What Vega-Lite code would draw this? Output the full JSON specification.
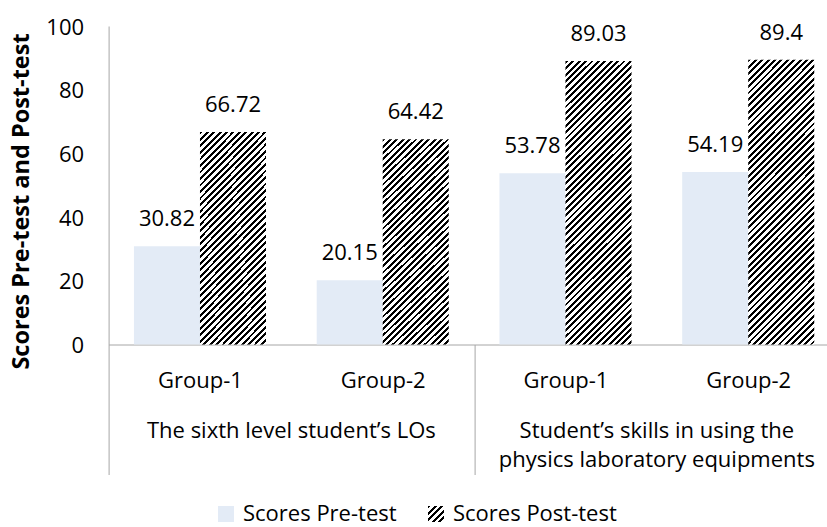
{
  "$schema": "https://vega.github.io/schema/vega-lite/v6.json",
  "width": 731,
  "height": 318.5,
  "autosize": {"type": "none"},
  "padding": {"left": 108.6, "top": 26, "right": -12.6, "bottom": 182.5},
  "background": "white",
  "config": {"view": {"stroke": null}, "font": "Open Sans"},
  "data": {
    "values": [
      {"category": "The sixth level student’s LOs", "group": "Group-1", "slot": "LOs|Group-1", "series": "Scores Pre-test", "value": 30.82},
      {"category": "The sixth level student’s LOs", "group": "Group-1", "slot": "LOs|Group-1", "series": "Scores Post-test", "value": 66.72},
      {"category": "The sixth level student’s LOs", "group": "Group-2", "slot": "LOs|Group-2", "series": "Scores Pre-test", "value": 20.15},
      {"category": "The sixth level student’s LOs", "group": "Group-2", "slot": "LOs|Group-2", "series": "Scores Post-test", "value": 64.42},
      {"category": "Student’s skills in using the\nphysics laboratory equipments", "group": "Group-1", "slot": "Skills|Group-1", "series": "Scores Pre-test", "value": 53.78},
      {"category": "Student’s skills in using the\nphysics laboratory equipments", "group": "Group-1", "slot": "Skills|Group-1", "series": "Scores Post-test", "value": 89.03},
      {"category": "Student’s skills in using the\nphysics laboratory equipments", "group": "Group-2", "slot": "Skills|Group-2", "series": "Scores Pre-test", "value": 54.19},
      {"category": "Student’s skills in using the\nphysics laboratory equipments", "group": "Group-2", "slot": "Skills|Group-2", "series": "Scores Post-test", "value": 89.4}
    ]
  },
  "layer": [
    {
      "transform": [{"filter": "datum.series == 'Scores Pre-test'"}],
      "mark": {"type": "bar"},
      "encoding": {
        "x": {
          "field": "slot",
          "type": "nominal",
          "scale": {"type": "band", "domain": ["LOs|Group-1", "LOs|Group-2", "Skills|Group-1", "Skills|Group-2"], "paddingInner": 0, "paddingOuter": 0},
          "axis": {
            "orient": "bottom",
            "title": null,
            "domain": true,
            "domainColor": "#a6a6a6",
            "ticks": true,
            "tickBand": "extent",
            "tickSize": 130,
            "tickColor": "#a6a6a6",
            "tickOpacity": {"condition": {"test": "!datum.extra && indexof(datum.value, 'Group-1') >= 0", "value": 0}, "value": 1},
            "labelAngle": 0,
            "labelPadding": -104.5,
            "labelFont": "Open Sans",
            "labelFontSize": 22,
            "labelColor": "#000",
            "labelExpr": "split(datum.value, '|')[1]"
          }
        },
        "xOffset": {
          "field": "series",
          "type": "nominal",
          "scale": {"type": "band", "domain": ["Scores Pre-test", "Scores Post-test"], "paddingInner": 0, "paddingOuter": 0.384}
        },
        "y": {
          "field": "value",
          "type": "quantitative",
          "scale": {"domain": [0, 100], "nice": false, "zero": true},
          "axis": {
            "title": "Scores Pre-test and Post-test",
            "titleFont": "Open Sans",
            "titleFontSize": 23.5,
            "titleFontWeight": "bold",
            "titleColor": "#000",
            "titlePadding": 12,
            "titleY": 175,
            "values": [0, 10, 20, 30, 40, 50, 60, 70, 80, 90, 100],
            "labelOverlap": false,
            "labelFont": "Open Sans",
            "labelFontSize": 22,
            "labelColor": "#000",
            "labelPadding": 25,
            "labelOffset": 1,
            "ticks": false,
            "grid": false,
            "domainColor": "#a6a6a6"
          }
        },
        "color": {
          "field": "series",
          "type": "nominal",
          "scale": {
            "domain": ["Scores Pre-test", "Scores Post-test"],
            "range": [
              "#e3ebf6",
              {"expr": "{gradient: 'linear', x1: 0, y1: 0, x2: 20, y2: 20, stops: [{offset: 0, color: '#000'}, {offset: 0.0045, color: '#000'}, {offset: 0.0045, color: '#fff'}, {offset: 0.01, color: '#fff'}, {offset: 0.01, color: '#000'}, {offset: 0.0145, color: '#000'}, {offset: 0.0145, color: '#fff'}, {offset: 0.02, color: '#fff'}, {offset: 0.02, color: '#000'}, {offset: 0.0245, color: '#000'}, {offset: 0.0245, color: '#fff'}, {offset: 0.03, color: '#fff'}, {offset: 0.03, color: '#000'}, {offset: 0.0345, color: '#000'}, {offset: 0.0345, color: '#fff'}, {offset: 0.04, color: '#fff'}, {offset: 0.04, color: '#000'}, {offset: 0.0445, color: '#000'}, {offset: 0.0445, color: '#fff'}, {offset: 0.05, color: '#fff'}, {offset: 0.05, color: '#000'}, {offset: 0.0545, color: '#000'}, {offset: 0.0545, color: '#fff'}, {offset: 0.06, color: '#fff'}]}"}
            ]
          },
          "legend": {
            "title": null,
            "orient": "none",
            "legendX": 106.4,
            "legendY": 477,
            "direction": "horizontal",
            "symbolType": "square",
            "symbolSize": 256,
            "symbolStrokeWidth": 0,
            "labelFont": "Open Sans",
            "labelFontSize": 22,
            "labelColor": "#000",
            "labelOffset": 6,
            "columnPadding": 28,
            "padding": 0,
            "labelLimit": 0
          }
        }
      }
    },
    {
      "transform": [{"filter": "datum.series == 'Scores Post-test' && datum.value > 80"}],
      "mark": {
        "type": "bar",
        "fill": {"gradient": "linear", "x1": 0, "y1": 0, "x2": 0.4964, "y2": 2.1366, "stops": [
          {"offset":0,"color":"#000"},{"offset":0.0045,"color":"#000"},{"offset":0.0045,"color":"#fff"},{"offset":0.01,"color":"#fff"},
          {"offset":0.01,"color":"#000"},{"offset":0.0145,"color":"#000"},{"offset":0.0145,"color":"#fff"},{"offset":0.02,"color":"#fff"},
          {"offset":0.02,"color":"#000"},{"offset":0.0245,"color":"#000"},{"offset":0.0245,"color":"#fff"},{"offset":0.03,"color":"#fff"},
          {"offset":0.03,"color":"#000"},{"offset":0.0345,"color":"#000"},{"offset":0.0345,"color":"#fff"},{"offset":0.04,"color":"#fff"},
          {"offset":0.04,"color":"#000"},{"offset":0.0445,"color":"#000"},{"offset":0.0445,"color":"#fff"},{"offset":0.05,"color":"#fff"},
          {"offset":0.05,"color":"#000"},{"offset":0.0545,"color":"#000"},{"offset":0.0545,"color":"#fff"},{"offset":0.06,"color":"#fff"},
          {"offset":0.06,"color":"#000"},{"offset":0.0645,"color":"#000"},{"offset":0.0645,"color":"#fff"},{"offset":0.07,"color":"#fff"},
          {"offset":0.07,"color":"#000"},{"offset":0.0745,"color":"#000"},{"offset":0.0745,"color":"#fff"},{"offset":0.08,"color":"#fff"},
          {"offset":0.08,"color":"#000"},{"offset":0.0845,"color":"#000"},{"offset":0.0845,"color":"#fff"},{"offset":0.09,"color":"#fff"},
          {"offset":0.09,"color":"#000"},{"offset":0.0945,"color":"#000"},{"offset":0.0945,"color":"#fff"},{"offset":0.10,"color":"#fff"},
          {"offset":0.10,"color":"#000"},{"offset":0.1045,"color":"#000"},{"offset":0.1045,"color":"#fff"},{"offset":0.11,"color":"#fff"},
          {"offset":0.11,"color":"#000"},{"offset":0.1145,"color":"#000"},{"offset":0.1145,"color":"#fff"},{"offset":0.12,"color":"#fff"},
          {"offset":0.12,"color":"#000"},{"offset":0.1245,"color":"#000"},{"offset":0.1245,"color":"#fff"},{"offset":0.13,"color":"#fff"},
          {"offset":0.13,"color":"#000"},{"offset":0.1345,"color":"#000"},{"offset":0.1345,"color":"#fff"},{"offset":0.14,"color":"#fff"},
          {"offset":0.14,"color":"#000"},{"offset":0.1445,"color":"#000"},{"offset":0.1445,"color":"#fff"},{"offset":0.15,"color":"#fff"},
          {"offset":0.15,"color":"#000"},{"offset":0.1545,"color":"#000"},{"offset":0.1545,"color":"#fff"},{"offset":0.16,"color":"#fff"},
          {"offset":0.16,"color":"#000"},{"offset":0.1645,"color":"#000"},{"offset":0.1645,"color":"#fff"},{"offset":0.17,"color":"#fff"},
          {"offset":0.17,"color":"#000"},{"offset":0.1745,"color":"#000"},{"offset":0.1745,"color":"#fff"},{"offset":0.18,"color":"#fff"},
          {"offset":0.18,"color":"#000"},{"offset":0.1845,"color":"#000"},{"offset":0.1845,"color":"#fff"},{"offset":0.19,"color":"#fff"},
          {"offset":0.19,"color":"#000"},{"offset":0.1945,"color":"#000"},{"offset":0.1945,"color":"#fff"},{"offset":0.20,"color":"#fff"},
          {"offset":0.20,"color":"#000"},{"offset":0.2045,"color":"#000"},{"offset":0.2045,"color":"#fff"},{"offset":0.21,"color":"#fff"},
          {"offset":0.21,"color":"#000"},{"offset":0.2145,"color":"#000"},{"offset":0.2145,"color":"#fff"},{"offset":0.22,"color":"#fff"},
          {"offset":0.22,"color":"#000"},{"offset":0.2245,"color":"#000"},{"offset":0.2245,"color":"#fff"},{"offset":0.23,"color":"#fff"},
          {"offset":0.23,"color":"#000"},{"offset":0.2345,"color":"#000"},{"offset":0.2345,"color":"#fff"},{"offset":0.24,"color":"#fff"},
          {"offset":0.24,"color":"#000"},{"offset":0.2445,"color":"#000"},{"offset":0.2445,"color":"#fff"},{"offset":0.25,"color":"#fff"},
          {"offset":0.25,"color":"#000"},{"offset":0.2545,"color":"#000"},{"offset":0.2545,"color":"#fff"},{"offset":0.26,"color":"#fff"},
          {"offset":0.26,"color":"#000"},{"offset":0.2645,"color":"#000"},{"offset":0.2645,"color":"#fff"},{"offset":0.27,"color":"#fff"},
          {"offset":0.27,"color":"#000"},{"offset":0.2745,"color":"#000"},{"offset":0.2745,"color":"#fff"},{"offset":0.28,"color":"#fff"},
          {"offset":0.28,"color":"#000"},{"offset":0.2845,"color":"#000"},{"offset":0.2845,"color":"#fff"},{"offset":0.29,"color":"#fff"},
          {"offset":0.29,"color":"#000"},{"offset":0.2945,"color":"#000"},{"offset":0.2945,"color":"#fff"},{"offset":0.30,"color":"#fff"},
          {"offset":0.30,"color":"#000"},{"offset":0.3045,"color":"#000"},{"offset":0.3045,"color":"#fff"},{"offset":0.31,"color":"#fff"},
          {"offset":0.31,"color":"#000"},{"offset":0.3145,"color":"#000"},{"offset":0.3145,"color":"#fff"},{"offset":0.32,"color":"#fff"},
          {"offset":0.32,"color":"#000"},{"offset":0.3245,"color":"#000"},{"offset":0.3245,"color":"#fff"},{"offset":0.33,"color":"#fff"},
          {"offset":0.33,"color":"#000"},{"offset":0.3345,"color":"#000"},{"offset":0.3345,"color":"#fff"},{"offset":0.34,"color":"#fff"},
          {"offset":0.34,"color":"#000"},{"offset":0.3445,"color":"#000"},{"offset":0.3445,"color":"#fff"},{"offset":0.35,"color":"#fff"},
          {"offset":0.35,"color":"#000"},{"offset":0.3545,"color":"#000"},{"offset":0.3545,"color":"#fff"},{"offset":0.36,"color":"#fff"},
          {"offset":0.36,"color":"#000"},{"offset":0.3645,"color":"#000"},{"offset":0.3645,"color":"#fff"},{"offset":0.37,"color":"#fff"},
          {"offset":0.37,"color":"#000"},{"offset":0.3745,"color":"#000"},{"offset":0.3745,"color":"#fff"},{"offset":0.38,"color":"#fff"},
          {"offset":0.38,"color":"#000"},{"offset":0.3845,"color":"#000"},{"offset":0.3845,"color":"#fff"},{"offset":0.39,"color":"#fff"},
          {"offset":0.39,"color":"#000"},{"offset":0.3945,"color":"#000"},{"offset":0.3945,"color":"#fff"},{"offset":0.40,"color":"#fff"},
          {"offset":0.40,"color":"#000"},{"offset":0.4045,"color":"#000"},{"offset":0.4045,"color":"#fff"},{"offset":0.41,"color":"#fff"},
          {"offset":0.41,"color":"#000"},{"offset":0.4145,"color":"#000"},{"offset":0.4145,"color":"#fff"},{"offset":0.42,"color":"#fff"},
          {"offset":0.42,"color":"#000"},{"offset":0.4245,"color":"#000"},{"offset":0.4245,"color":"#fff"},{"offset":0.43,"color":"#fff"},
          {"offset":0.43,"color":"#000"},{"offset":0.4345,"color":"#000"},{"offset":0.4345,"color":"#fff"},{"offset":0.44,"color":"#fff"},
          {"offset":0.44,"color":"#000"},{"offset":0.4445,"color":"#000"},{"offset":0.4445,"color":"#fff"},{"offset":0.45,"color":"#fff"},
          {"offset":0.45,"color":"#000"},{"offset":0.4545,"color":"#000"},{"offset":0.4545,"color":"#fff"},{"offset":0.46,"color":"#fff"},
          {"offset":0.46,"color":"#000"},{"offset":0.4645,"color":"#000"},{"offset":0.4645,"color":"#fff"},{"offset":0.47,"color":"#fff"},
          {"offset":0.47,"color":"#000"},{"offset":0.4745,"color":"#000"},{"offset":0.4745,"color":"#fff"},{"offset":0.48,"color":"#fff"},
          {"offset":0.48,"color":"#000"},{"offset":0.4845,"color":"#000"},{"offset":0.4845,"color":"#fff"},{"offset":0.49,"color":"#fff"},
          {"offset":0.49,"color":"#000"},{"offset":0.4945,"color":"#000"},{"offset":0.4945,"color":"#fff"},{"offset":0.50,"color":"#fff"},
          {"offset":0.50,"color":"#000"},{"offset":0.5045,"color":"#000"},{"offset":0.5045,"color":"#fff"},{"offset":0.51,"color":"#fff"},
          {"offset":0.51,"color":"#000"},{"offset":0.5145,"color":"#000"},{"offset":0.5145,"color":"#fff"},{"offset":0.52,"color":"#fff"},
          {"offset":0.52,"color":"#000"},{"offset":0.5245,"color":"#000"},{"offset":0.5245,"color":"#fff"},{"offset":0.53,"color":"#fff"},
          {"offset":0.53,"color":"#000"},{"offset":0.5345,"color":"#000"},{"offset":0.5345,"color":"#fff"},{"offset":0.54,"color":"#fff"},
          {"offset":0.54,"color":"#000"},{"offset":0.5445,"color":"#000"},{"offset":0.5445,"color":"#fff"},{"offset":0.55,"color":"#fff"},
          {"offset":0.55,"color":"#000"},{"offset":0.5545,"color":"#000"},{"offset":0.5545,"color":"#fff"},{"offset":0.56,"color":"#fff"}
        ]}
      },
      "encoding": {
        "x": {"field": "slot", "type": "nominal"},
        "xOffset": {"field": "series", "type": "nominal"},
        "y": {"field": "value", "type": "quantitative"}
      }
    },
    {
      "transform": [{"filter": "datum.series == 'Scores Post-test' && datum.value < 80"}],
      "mark": {
        "type": "bar",
        "fill": {"gradient": "linear", "x1": 0, "y1": 0, "x2": 0.8807, "y2": 2.786, "stops": [
          {"offset":0,"color":"#000"},{"offset":0.0045,"color":"#000"},{"offset":0.0045,"color":"#fff"},{"offset":0.01,"color":"#fff"},
          {"offset":0.01,"color":"#000"},{"offset":0.0145,"color":"#000"},{"offset":0.0145,"color":"#fff"},{"offset":0.02,"color":"#fff"},
          {"offset":0.02,"color":"#000"},{"offset":0.0245,"color":"#000"},{"offset":0.0245,"color":"#fff"},{"offset":0.03,"color":"#fff"},
          {"offset":0.03,"color":"#000"},{"offset":0.0345,"color":"#000"},{"offset":0.0345,"color":"#fff"},{"offset":0.04,"color":"#fff"},
          {"offset":0.04,"color":"#000"},{"offset":0.0445,"color":"#000"},{"offset":0.0445,"color":"#fff"},{"offset":0.05,"color":"#fff"},
          {"offset":0.05,"color":"#000"},{"offset":0.0545,"color":"#000"},{"offset":0.0545,"color":"#fff"},{"offset":0.06,"color":"#fff"},
          {"offset":0.06,"color":"#000"},{"offset":0.0645,"color":"#000"},{"offset":0.0645,"color":"#fff"},{"offset":0.07,"color":"#fff"},
          {"offset":0.07,"color":"#000"},{"offset":0.0745,"color":"#000"},{"offset":0.0745,"color":"#fff"},{"offset":0.08,"color":"#fff"},
          {"offset":0.08,"color":"#000"},{"offset":0.0845,"color":"#000"},{"offset":0.0845,"color":"#fff"},{"offset":0.09,"color":"#fff"},
          {"offset":0.09,"color":"#000"},{"offset":0.0945,"color":"#000"},{"offset":0.0945,"color":"#fff"},{"offset":0.10,"color":"#fff"},
          {"offset":0.10,"color":"#000"},{"offset":0.1045,"color":"#000"},{"offset":0.1045,"color":"#fff"},{"offset":0.11,"color":"#fff"},
          {"offset":0.11,"color":"#000"},{"offset":0.1145,"color":"#000"},{"offset":0.1145,"color":"#fff"},{"offset":0.12,"color":"#fff"},
          {"offset":0.12,"color":"#000"},{"offset":0.1245,"color":"#000"},{"offset":0.1245,"color":"#fff"},{"offset":0.13,"color":"#fff"},
          {"offset":0.13,"color":"#000"},{"offset":0.1345,"color":"#000"},{"offset":0.1345,"color":"#fff"},{"offset":0.14,"color":"#fff"},
          {"offset":0.14,"color":"#000"},{"offset":0.1445,"color":"#000"},{"offset":0.1445,"color":"#fff"},{"offset":0.15,"color":"#fff"},
          {"offset":0.15,"color":"#000"},{"offset":0.1545,"color":"#000"},{"offset":0.1545,"color":"#fff"},{"offset":0.16,"color":"#fff"},
          {"offset":0.16,"color":"#000"},{"offset":0.1645,"color":"#000"},{"offset":0.1645,"color":"#fff"},{"offset":0.17,"color":"#fff"},
          {"offset":0.17,"color":"#000"},{"offset":0.1745,"color":"#000"},{"offset":0.1745,"color":"#fff"},{"offset":0.18,"color":"#fff"},
          {"offset":0.18,"color":"#000"},{"offset":0.1845,"color":"#000"},{"offset":0.1845,"color":"#fff"},{"offset":0.19,"color":"#fff"},
          {"offset":0.19,"color":"#000"},{"offset":0.1945,"color":"#000"},{"offset":0.1945,"color":"#fff"},{"offset":0.20,"color":"#fff"},
          {"offset":0.20,"color":"#000"},{"offset":0.2045,"color":"#000"},{"offset":0.2045,"color":"#fff"},{"offset":0.21,"color":"#fff"},
          {"offset":0.21,"color":"#000"},{"offset":0.2145,"color":"#000"},{"offset":0.2145,"color":"#fff"},{"offset":0.22,"color":"#fff"},
          {"offset":0.22,"color":"#000"},{"offset":0.2245,"color":"#000"},{"offset":0.2245,"color":"#fff"},{"offset":0.23,"color":"#fff"},
          {"offset":0.23,"color":"#000"},{"offset":0.2345,"color":"#000"},{"offset":0.2345,"color":"#fff"},{"offset":0.24,"color":"#fff"},
          {"offset":0.24,"color":"#000"},{"offset":0.2445,"color":"#000"},{"offset":0.2445,"color":"#fff"},{"offset":0.25,"color":"#fff"},
          {"offset":0.25,"color":"#000"},{"offset":0.2545,"color":"#000"},{"offset":0.2545,"color":"#fff"},{"offset":0.26,"color":"#fff"},
          {"offset":0.26,"color":"#000"},{"offset":0.2645,"color":"#000"},{"offset":0.2645,"color":"#fff"},{"offset":0.27,"color":"#fff"},
          {"offset":0.27,"color":"#000"},{"offset":0.2745,"color":"#000"},{"offset":0.2745,"color":"#fff"},{"offset":0.28,"color":"#fff"},
          {"offset":0.28,"color":"#000"},{"offset":0.2845,"color":"#000"},{"offset":0.2845,"color":"#fff"},{"offset":0.29,"color":"#fff"},
          {"offset":0.29,"color":"#000"},{"offset":0.2945,"color":"#000"},{"offset":0.2945,"color":"#fff"},{"offset":0.30,"color":"#fff"},
          {"offset":0.30,"color":"#000"},{"offset":0.3045,"color":"#000"},{"offset":0.3045,"color":"#fff"},{"offset":0.31,"color":"#fff"},
          {"offset":0.31,"color":"#000"},{"offset":0.3145,"color":"#000"},{"offset":0.3145,"color":"#fff"},{"offset":0.32,"color":"#fff"},
          {"offset":0.32,"color":"#000"},{"offset":0.3245,"color":"#000"},{"offset":0.3245,"color":"#fff"},{"offset":0.33,"color":"#fff"},
          {"offset":0.33,"color":"#000"},{"offset":0.3345,"color":"#000"},{"offset":0.3345,"color":"#fff"},{"offset":0.34,"color":"#fff"},
          {"offset":0.34,"color":"#000"},{"offset":0.3445,"color":"#000"},{"offset":0.3445,"color":"#fff"},{"offset":0.35,"color":"#fff"},
          {"offset":0.35,"color":"#000"},{"offset":0.3545,"color":"#000"},{"offset":0.3545,"color":"#fff"},{"offset":0.36,"color":"#fff"},
          {"offset":0.36,"color":"#000"},{"offset":0.3645,"color":"#000"},{"offset":0.3645,"color":"#fff"},{"offset":0.37,"color":"#fff"},
          {"offset":0.37,"color":"#000"},{"offset":0.3745,"color":"#000"},{"offset":0.3745,"color":"#fff"},{"offset":0.38,"color":"#fff"},
          {"offset":0.38,"color":"#000"},{"offset":0.3845,"color":"#000"},{"offset":0.3845,"color":"#fff"},{"offset":0.39,"color":"#fff"},
          {"offset":0.39,"color":"#000"},{"offset":0.3945,"color":"#000"},{"offset":0.3945,"color":"#fff"},{"offset":0.40,"color":"#fff"},
          {"offset":0.40,"color":"#000"},{"offset":0.4045,"color":"#000"},{"offset":0.4045,"color":"#fff"},{"offset":0.41,"color":"#fff"},
          {"offset":0.41,"color":"#000"},{"offset":0.4145,"color":"#000"},{"offset":0.4145,"color":"#fff"},{"offset":0.42,"color":"#fff"},
          {"offset":0.42,"color":"#000"},{"offset":0.4245,"color":"#000"},{"offset":0.4245,"color":"#fff"},{"offset":0.43,"color":"#fff"},
          {"offset":0.43,"color":"#000"},{"offset":0.4345,"color":"#000"},{"offset":0.4345,"color":"#fff"},{"offset":0.44,"color":"#fff"}
        ]}
      },
      "encoding": {
        "x": {"field": "slot", "type": "nominal"},
        "xOffset": {"field": "series", "type": "nominal"},
        "y": {"field": "value", "type": "quantitative"}
      }
    },
    {
      "mark": {"type": "text", "font": "Open Sans", "fontSize": 22, "color": "#000", "baseline": "middle", "dy": -27},
      "encoding": {
        "x": {"field": "slot", "type": "nominal"},
        "xOffset": {"field": "series", "type": "nominal"},
        "y": {"field": "value", "type": "quantitative"},
        "text": {"field": "value", "type": "quantitative"}
      }
    },
    {
      "transform": [{"filter": "datum.group == 'Group-1' && datum.series == 'Scores Pre-test'"}],
      "mark": {"type": "text", "font": "Open Sans", "fontSize": 22, "color": "#000", "align": "center", "baseline": "top", "dy": 76, "lineBreak": "\n", "lineHeight": 29},
      "encoding": {
        "x": {"field": "slot", "type": "nominal", "bandPosition": 1},
        "y": {"datum": 0, "type": "quantitative"},
        "text": {"field": "category", "type": "nominal"}
      }
    }
  ]
}
